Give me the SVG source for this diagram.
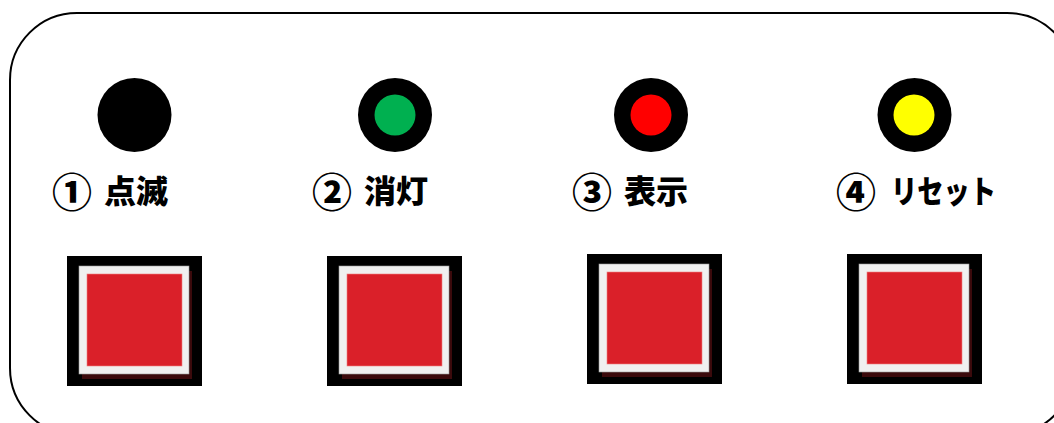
<svg xmlns="http://www.w3.org/2000/svg" width="1054" height="423" viewBox="0 0 1054 423">
<defs>
<style>
.panel{fill:#fff;stroke:#000;stroke-width:2}
.lamp{fill:#000}
.lbl{font-family:"Noto Sans CJK JP","Noto Sans",sans-serif;font-weight:900;font-size:32px;fill:#000}
.num{font-family:"Noto Sans CJK JP","Noto Sans",sans-serif;font-weight:900;font-size:40px;fill:#000}
.bk{fill:#000}
.sh{fill:#3b0a0c}
.wf{fill:#f0f0f0;stroke:#9a9a9a;stroke-width:0.6}
.rd{fill:#da2029;stroke:#f08080;stroke-width:0.6}
</style>
<g id="btn">
<rect class="bk" x="0" y="0" width="135" height="130"/>
<rect class="sh" x="15" y="15" width="110" height="108"/>
<rect class="wf" x="12" y="10" width="110" height="108"/>
<rect class="rd" x="20" y="18" width="95" height="92"/>
</g>
</defs>
<rect class="panel" x="10" y="13" width="1064" height="422" rx="67" ry="67"/>
<g id="lamp1">
<circle class="lamp" cx="134.5" cy="115" r="37"/>
</g>
<g id="lamp2">
<circle class="lamp" cx="395" cy="115" r="37"/>
<circle cx="395" cy="115" r="20.5" fill="#00b050"/>
</g>
<g id="lamp3">
<circle class="lamp" cx="651" cy="115" r="37"/>
<circle cx="651" cy="115" r="20.5" fill="#ff0000"/>
</g>
<g id="lamp4">
<circle class="lamp" cx="914.5" cy="115" r="37"/>
<circle cx="914" cy="115" r="20.5" fill="#ffff00"/>
</g>
<g id="label1"><text class="num" x="52" y="207">①</text><text class="lbl" x="104" y="203">点滅</text></g>
<g id="label2"><text class="num" x="312" y="207">②</text><text class="lbl" x="364" y="203">消灯</text></g>
<g id="label3"><text class="num" x="572" y="207">③</text><text class="lbl" x="624" y="203">表示</text></g>
<g id="label4"><text class="num" x="836" y="207">④</text><text class="lbl" x="891" y="203" textLength="105" lengthAdjust="spacingAndGlyphs">リセット</text></g>
<g id="button1"><use href="#btn" x="67" y="256"/></g>
<g id="button2"><use href="#btn" x="327" y="256"/></g>
<g id="button3"><use href="#btn" x="587" y="254"/></g>
<g id="button4"><use href="#btn" x="847" y="254"/></g>
<g id="connectors"/>
</svg>
